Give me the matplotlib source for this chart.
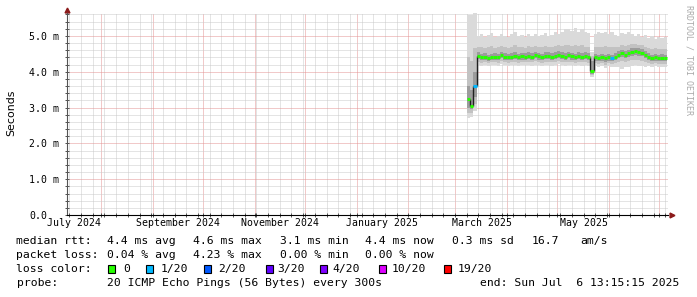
import numpy as np
import pandas as pd
import matplotlib
matplotlib.use('Agg')
import matplotlib.pyplot as plt
import matplotlib.dates as mdates
from matplotlib.ticker import MultipleLocator, NullFormatter
from matplotlib.patches import Rectangle
from datetime import datetime, timedelta

# graph time range (last 360 days)
t_end = datetime(2025, 7, 6, 13, 15, 15)
t_start = t_end - timedelta(days=360)

# smokeping samples, one every 2 days (ms)
dates = pd.date_range('2025-03-08', periods=60, freq='2D')
median = [3.25, 3.05, 3.60, 4.45, 4.40, 4.42, 4.38, 4.40, 4.42, 4.40,
          4.47, 4.42, 4.40, 4.42, 4.45, 4.40, 4.43, 4.42, 4.44, 4.42,
          4.46, 4.43, 4.40, 4.45, 4.44, 4.42, 4.44, 4.48, 4.44, 4.42,
          4.46, 4.43, 4.40, 4.45, 4.42, 4.44, 4.41, 4.02, 4.40, 4.38,
          4.40, 4.37, 4.40, 4.38, 4.42, 4.47, 4.52, 4.48, 4.52, 4.55,
          4.57, 4.55, 4.53, 4.47, 4.42, 4.38, 4.40, 4.38, 4.39, 4.38]
smoke_max = [5.58, 5.58, 5.70, 5.00, 5.05, 4.98, 5.02, 5.08, 4.96, 5.00,
             5.04, 5.00, 4.97, 5.05, 5.12, 5.00, 5.02, 4.98, 5.04, 5.00,
             5.06, 5.00, 5.03, 5.08, 5.00, 5.02, 5.10, 5.05, 5.12, 5.18,
             5.20, 5.15, 5.22, 5.12, 5.18, 5.10, 5.08, 4.55, 5.05, 5.10,
             5.08, 5.12, 5.05, 5.10, 5.02, 5.00, 5.08, 5.05, 5.10, 5.06,
             5.00, 5.05, 4.98, 5.02, 4.95, 5.00, 4.92, 4.98, 4.95, 4.97]
p90 = [4.40, 4.30, 4.65, 4.70, 4.68, 4.66, 4.70, 4.72, 4.66, 4.68,
       4.72, 4.68, 4.66, 4.70, 4.74, 4.68, 4.70, 4.67, 4.71, 4.68,
       4.72, 4.69, 4.68, 4.72, 4.70, 4.68, 4.72, 4.74, 4.72, 4.74,
       4.76, 4.72, 4.75, 4.72, 4.74, 4.70, 4.68, 4.45, 4.68, 4.70,
       4.70, 4.72, 4.68, 4.70, 4.68, 4.70, 4.75, 4.72, 4.76, 4.78,
       4.78, 4.76, 4.74, 4.70, 4.66, 4.64, 4.65, 4.64, 4.64, 4.64]
p75 = [3.60, 3.50, 4.00, 4.55, 4.50, 4.52, 4.48, 4.50, 4.52, 4.50,
       4.56, 4.52, 4.50, 4.52, 4.55, 4.50, 4.53, 4.52, 4.54, 4.52,
       4.56, 4.53, 4.50, 4.55, 4.54, 4.52, 4.54, 4.58, 4.54, 4.52,
       4.56, 4.53, 4.50, 4.55, 4.52, 4.54, 4.51, 4.30, 4.50, 4.48,
       4.50, 4.47, 4.50, 4.48, 4.52, 4.57, 4.62, 4.58, 4.62, 4.65,
       4.67, 4.65, 4.63, 4.57, 4.52, 4.48, 4.50, 4.48, 4.49, 4.48]
p25 = [2.98, 2.96, 3.30, 4.36, 4.32, 4.33, 4.30, 4.32, 4.33, 4.32,
       4.38, 4.33, 4.32, 4.33, 4.36, 4.32, 4.34, 4.33, 4.35, 4.33,
       4.37, 4.34, 4.32, 4.36, 4.35, 4.33, 4.35, 4.39, 4.35, 4.33,
       4.37, 4.34, 4.32, 4.36, 4.33, 4.35, 4.32, 3.94, 4.31, 4.29,
       4.31, 4.28, 4.31, 4.29, 4.33, 4.38, 4.42, 4.39, 4.42, 4.45,
       4.47, 4.45, 4.44, 4.38, 4.33, 4.29, 4.31, 4.29, 4.30, 4.29]
p10 = [2.85, 2.86, 3.10, 4.26, 4.25, 4.26, 4.24, 4.26, 4.26, 4.25,
       4.30, 4.26, 4.25, 4.26, 4.28, 4.25, 4.27, 4.26, 4.27, 4.26,
       4.29, 4.27, 4.25, 4.28, 4.27, 4.26, 4.27, 4.30, 4.27, 4.26,
       4.28, 4.27, 4.25, 4.28, 4.26, 4.27, 4.25, 3.90, 4.24, 4.22,
       4.24, 4.20, 4.24, 4.22, 4.25, 4.28, 4.30, 4.28, 4.30, 4.32,
       4.33, 4.32, 4.31, 4.28, 4.25, 4.22, 4.24, 4.22, 4.23, 4.22]
smoke_min = [2.72, 2.74, 2.90, 4.18, 4.17, 4.19, 4.16, 4.18, 4.19, 4.17,
             4.21, 4.18, 4.17, 4.19, 4.20, 4.16, 4.19, 4.18, 4.19, 4.17,
             4.20, 4.18, 4.16, 4.19, 4.18, 4.17, 4.18, 4.21, 4.18, 4.17,
             4.19, 4.18, 4.16, 4.19, 4.17, 4.18, 4.16, 3.84, 4.15, 4.13,
             4.15, 4.10, 4.15, 4.12, 4.14, 4.12, 4.08, 4.12, 4.14, 4.16,
             4.18, 4.16, 4.15, 4.14, 4.15, 4.13, 4.15, 4.13, 4.14, 4.13]
# lost pings out of 20 per sample
loss = [0, 0, 1, 0, 0, 0, 0, 0, 0, 0,
        0, 0, 0, 0, 0, 0, 0, 0, 0, 0,
        0, 0, 0, 0, 0, 0, 0, 0, 0, 0,
        0, 0, 0, 0, 0, 0, 0, 0, 0, 0,
        0, 0, 0, 1, 0, 0, 0, 0, 0, 0,
        0, 0, 0, 0, 0, 0, 0, 0, 0, 0]

loss_labels = ['0', '1/20', '2/20', '3/20', '4/20', '10/20', '19/20']
loss_colors = ['#26ff00', '#00b8ff', '#0059ff', '#5e00ff', '#7e00ff', '#dd00ff', '#ff0000']
loss_levels = [0, 1, 2, 3, 4, 10, 19]

x_labels = ['July 2024', 'September 2024', 'November 2024',
            'January 2025', 'March 2025', 'May 2025']
x_label_dates = [datetime(2024, 7, 16), datetime(2024, 9, 16), datetime(2024, 11, 16),
                 datetime(2025, 1, 16), datetime(2025, 3, 17), datetime(2025, 5, 17)]
y_ticks = [0, 1, 2, 3, 4, 5]
y_labels = ['0.0', '1.0 m', '2.0 m', '3.0 m', '4.0 m', '5.0 m']

W, H = 697, 297
mono = 'DejaVu Sans Mono'


def fx(px):
    return px / W


def fy(py):
    return 1 - py / H


fig = plt.figure(figsize=(W / 100, H / 100), dpi=100)
ax = fig.add_axes([fx(67), fy(215), (668 - 67) / W, (215 - 13) / H])

# smoke
xs = mdates.date2num(dates.to_pydatetime())
step = xs[1] - xs[0]
edges = np.append(xs, xs[-1] + step)


def ext(a):
    return np.append(a, a[-1])


ax.fill_between(edges, ext(smoke_min), ext(smoke_max), step='post', color='#dadada', lw=0, zorder=2)
ax.fill_between(edges, ext(p10), ext(p90), step='post', color='#c2c2c2', lw=0, zorder=2)
ax.fill_between(edges, ext(p25), ext(p75), step='post', color='#9c9c9c', lw=0, zorder=2)

# median line, coloured by loss; dark stroke on the big jumps
med = np.array(median)
jumps = np.where(np.abs(np.diff(med)) > 0.2)[0] + 1
ax.vlines(edges[jumps], med[jumps - 1], med[jumps], color='#202020', lw=1.0, zorder=3)
seg_colors = [loss_colors[loss_levels.index(l)] for l in loss]
ax.hlines(med, xs, xs + step, colors=seg_colors, lw=2.2, zorder=4)

ax.set_xlim(mdates.date2num(t_start), mdates.date2num(t_end))
ax.set_ylim(0, 5.64)

# grid
ax.xaxis.set_major_locator(mdates.MonthLocator())
ax.xaxis.set_minor_locator(mdates.WeekdayLocator(byweekday=mdates.SA))
ax.xaxis.set_major_formatter(NullFormatter())
ax.set_yticks(y_ticks)
ax.set_yticklabels(y_labels, family=mono, fontsize=7.1, ha='left')
ax.yaxis.set_minor_locator(MultipleLocator(0.2))
ax.set_axisbelow(True)
ax.grid(which='minor', color='#cacaca', ls=(0, (1, 1)), lw=0.72)
ax.grid(which='major', color='#e49494', ls=(0, (1, 1)), lw=0.72)
ax.tick_params(axis='both', which='both', direction='inout', length=2.9, width=0.72, color='#555555')
ax.tick_params(axis='y', which='major', pad=25.9)

for s in ['top', 'right']:
    ax.spines[s].set_visible(False)
ax.spines['left'].set_color('#555555')
ax.spines['left'].set_linewidth(0.8)
ax.spines['bottom'].set_color('black')
ax.spines['bottom'].set_linewidth(0.8)

# axis arrows
ax.plot([0], [1.013], marker='^', color='#8b1a1a', ms=3.5, transform=ax.transAxes, clip_on=False)
ax.plot([1.006], [0], marker='>', color='#8b1a1a', ms=3.5, transform=ax.transAxes, clip_on=False)

# x labels
for d, lab in zip(x_label_dates, x_labels):
    ax.text(mdates.date2num(d), -8.5 / 202, lab, transform=ax.get_xaxis_transform(),
            ha='center', va='center', family=mono, fontsize=7.1)

fig.text(fx(11), fy(113), 'Seconds', rotation=90, ha='center', va='center',
         fontsize=7.9, family='DejaVu Sans')
fig.text(fx(689), fy(60), 'RRDTOOL / TOBI OETIKER', rotation=270, ha='center', va='center',
         fontsize=6, color='#aaaaaa', family=mono)

# legend
fs = 8.2
rows = [
    (241, [(16.5, 'median rtt:'), (107, '4.4 ms avg'), (193, '4.6 ms max'), (280, '3.1 ms min'),
           (365, '4.4 ms now'), (452, '0.3 ms sd'), (532, '16.7'), (580, 'am/s')]),
    (255, [(16.5, 'packet loss:'), (107, '0.04 % avg'), (193, '4.23 % max'),
           (280, '0.00 % min'), (365, '0.00 % now')]),
    (269, [(16.5, 'loss color:')]),
    (283, [(16.5, 'probe:'), (107, '20 ICMP Echo Pings (56 Bytes) every 300s'),
           (480, 'end: Sun Jul  6 13:15:15 2025')]),
]
for y, items in rows:
    for x, s in items:
        fig.text(fx(x), fy(y), s, ha='left', va='center', family=mono, fontsize=fs)

box_x = [108, 146, 204, 266, 320, 379, 444]
lab_x = [123, 161, 218, 277, 332, 392, 458]
for bx, lx, c, lab in zip(box_x, lab_x, loss_colors, loss_labels):
    fig.patches.append(Rectangle((fx(bx), fy(273)), 7 / W, 8 / H, transform=fig.transFigure,
                                 facecolor=c, edgecolor='black', lw=0.8))
    fig.text(fx(lx), fy(269), lab, ha='left', va='center', family=mono, fontsize=fs)

fig.savefig('out.png', dpi=100, facecolor='white')
